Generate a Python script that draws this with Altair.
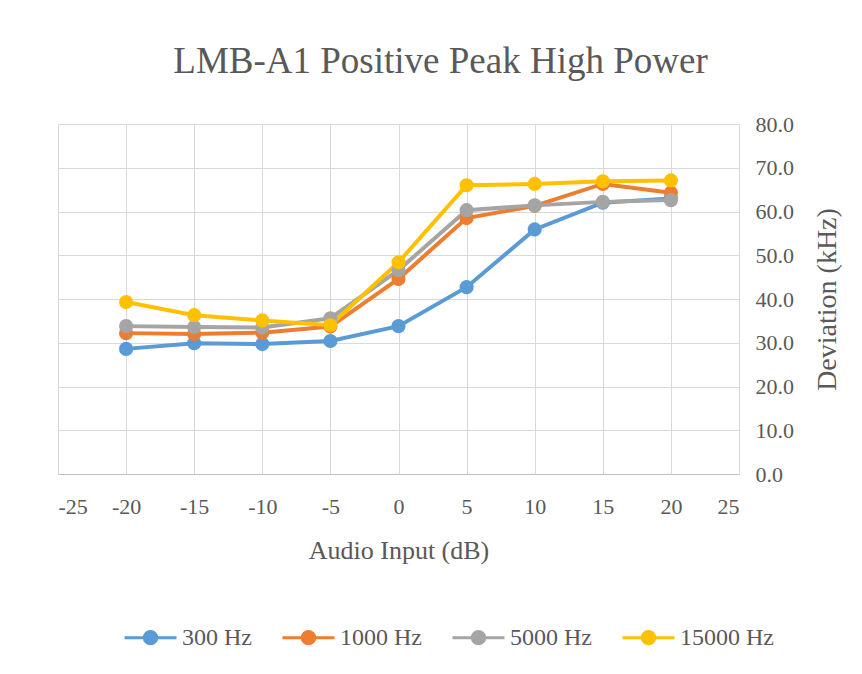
import altair as alt
import pandas as pd

x_vals = [-20, -15, -10, -5, 0, 5, 10, 15, 20]
series_names = ["300 Hz", "1000 Hz", "5000 Hz", "15000 Hz"]
hz300 = [28.6, 29.9, 29.7, 30.4, 33.8, 42.7, 55.9, 62.0, 63.0]
hz1000 = [32.2, 32.0, 32.3, 33.7, 44.6, 58.5, 61.3, 66.3, 64.3]
hz5000 = [33.8, 33.6, 33.5, 35.6, 46.6, 60.3, 61.4, 62.2, 62.6]
hz15000 = [39.3, 36.3, 35.1, 34.0, 48.4, 66.0, 66.3, 66.9, 67.1]
colors = ["#5B9BD5", "#ED7D31", "#A5A5A5", "#FFC000"]

rows = []
for name, vals in zip(series_names, [hz300, hz1000, hz5000, hz15000]):
    for xv, yv in zip(x_vals, vals):
        rows.append({"Series": name, "x": xv, "y": yv})
df = pd.DataFrame(rows)

FONT = "Liberation Serif"
TXT = "#595959"

scale = alt.Scale(domain=series_names, range=colors)

xenc = alt.X("x:Q", scale=alt.Scale(domain=[-25, 25], nice=False),
             axis=alt.Axis(values=list(range(-25, 30, 5)), title="Audio Input (dB)",
                           labelExpr="datum.value + ''",
                           grid=True, gridColor="#D9D9D9", ticks=False,
                           domainColor="#BFBFBF", labelPadding=22, titlePadding=20))
yenc = alt.Y("y:Q", scale=alt.Scale(domain=[0, 80], nice=False),
             axis=alt.Axis(orient="right", values=list(range(0, 90, 10)), format=".1f",
                           title="Deviation (kHz)", titleAngle=270, grid=True,
                           gridColor="#D9D9D9", ticks=False, domain=False,
                           titleFontSize=28,
                           labelPadding=16, titlePadding=48))

sym = "M-1,0L1,0M0.24,0A0.24,0.24,0,1,1,-0.24,0A0.24,0.24,0,1,1,0.24,0Z"
legend = alt.Legend(title=None, orient="none", legendX=65, legendY=486, direction="horizontal",
                    columns=4, symbolType=sym, symbolSize=2704, symbolStrokeWidth=3,
                    labelFontSize=24, labelFont=FONT, labelColor=TXT, labelOffset=4,
                    columnPadding=24)

lines = alt.Chart(df).mark_line(strokeWidth=4).encode(
    x=xenc, y=yenc,
    color=alt.Color("Series:N", scale=scale, legend=legend),
    order="x:Q", detail="Series:N")

points = alt.Chart(df).mark_point(filled=True, size=200, opacity=1).encode(
    x=xenc, y=yenc,
    color=alt.Color("Series:N", scale=scale, legend=legend))

chart = alt.layer(lines, points).properties(
    width=681, height=350,
    background="white",
    title=alt.TitleParams("LMB-A1 Positive Peak High Power", fontSize=37, font=FONT,
                          color=TXT, fontWeight="normal", anchor="middle", dx=42, offset=32),
    autosize=alt.AutoSizeParams(type="none"),
    padding={"left": 50, "top": 116, "right": 115, "bottom": 192},
).configure_axis(
    labelFont=FONT, labelFontSize=22, labelColor=TXT,
    titleFont=FONT, titleFontSize=26, titleColor=TXT, titleFontWeight="normal",
).configure_view(stroke=None)

chart.save("out.html", embed_options={"renderer": "svg", "actions": False})
